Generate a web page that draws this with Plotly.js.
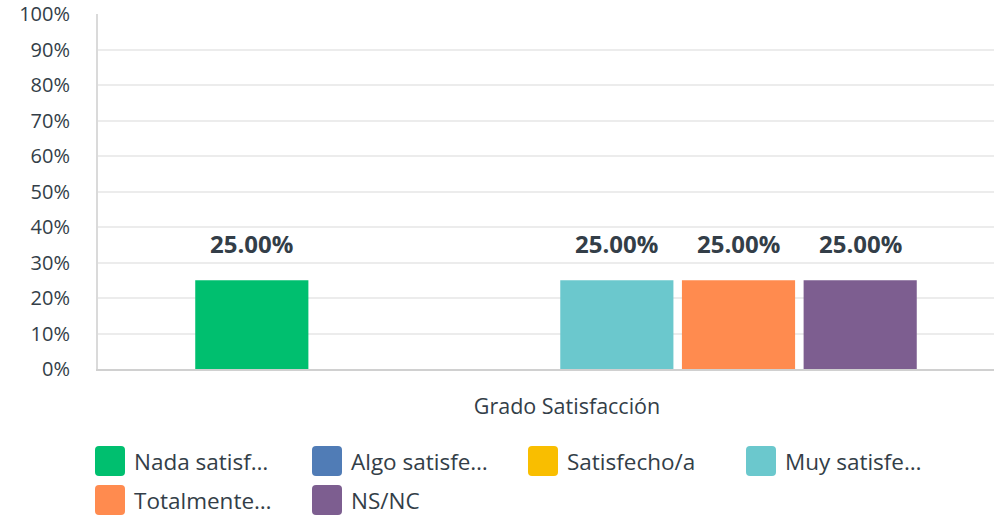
<!DOCTYPE html>
<html><head><meta charset="utf-8">
<script src="https://cdn.plot.ly/plotly-3.0.1.min.js"></script>
<style>html,body{margin:0;padding:0;background:#fff;overflow:hidden}#chart{width:994px;height:516px}</style>
</head><body><div id="chart"></div>
<script>
// ---- data ----
const categories = ['Grado Satisfacción'];
const seriesNames = ['Nada satisf…', 'Algo satisfe…', 'Satisfecho/a', 'Muy satisfe…', 'Totalmente…', 'NS/NC'];
const seriesValues = [25, 0, 0, 25, 25, 25];
const seriesColors = ['#00bf6f', '#507cb6', '#f9be00', '#6bc8cd', '#ff8b4f', '#7d5e90'];
const yTickVals = [0, 10, 20, 30, 40, 50, 60, 70, 80, 90, 100];
const yTickText = ['0%', '10%', '20%', '30%', '40%', '50%', '60%', '70%', '80%', '90%', '100%'];

// ---- layout constants ----
const W = 994, H = 516, ML = 98, MR = 0, MT = 14, MB = 147;
const PW = W - ML - MR, PH = H - MT - MB;
const bargap = 0.2217, bargroupgap = 0.07;
const FONT = '"Open Sans", "Noto Sans", sans-serif';
const TXT = '#333e48';

const traces = seriesNames.map((n, i) => ({
  type: 'bar', name: n, x: categories, y: [seriesValues[i]],
  marker: {color: seriesColors[i], line: {width: 0}},
  hoverinfo: 'skip', showlegend: false
}));

// value labels above bars
const nS = seriesNames.length;
const slot = (1 - bargap) / nS;
const annotations = [];
seriesValues.forEach((v, i) => {
  if (v > 0) annotations.push({
    xref: 'x', yref: 'y', x: (i - (nS - 1) / 2) * slot, y: v,
    text: '<b>' + v.toFixed(2) + '%</b>', showarrow: false,
    yanchor: 'middle', yshift: 37,
    font: {family: FONT, size: 24, color: TXT}
  });
});

// custom legend
const px2x = p => (p - ML) / PW;
const px2y = p => (H - MB - p) / PH;
const legendCols = [95, 312, 528, 746];
const legendRows = [461, 500];
const shapes = [];
function roundRect(x0, y0, w, h, r) {
  const X = p => px2x(p), Y = p => px2y(p);
  return 'M' + X(x0 + r) + ',' + Y(y0) +
    ' L' + X(x0 + w - r) + ',' + Y(y0) +
    ' Q' + X(x0 + w) + ',' + Y(y0) + ' ' + X(x0 + w) + ',' + Y(y0 + r) +
    ' L' + X(x0 + w) + ',' + Y(y0 + h - r) +
    ' Q' + X(x0 + w) + ',' + Y(y0 + h) + ' ' + X(x0 + w - r) + ',' + Y(y0 + h) +
    ' L' + X(x0 + r) + ',' + Y(y0 + h) +
    ' Q' + X(x0) + ',' + Y(y0 + h) + ' ' + X(x0) + ',' + Y(y0 + h - r) +
    ' L' + X(x0) + ',' + Y(y0 + r) +
    ' Q' + X(x0) + ',' + Y(y0) + ' ' + X(x0 + r) + ',' + Y(y0) + ' Z';
}
seriesNames.forEach((n, i) => {
  const cx = legendCols[i % 4], cy = legendRows[Math.floor(i / 4)];
  shapes.push({type: 'path', xref: 'paper', yref: 'paper',
    path: roundRect(cx, cy - 15, 30, 30, 4),
    fillcolor: seriesColors[i], line: {width: 0}, layer: 'above'});
  annotations.push({xref: 'paper', yref: 'paper', x: px2x(cx + 37), y: px2y(cy),
    xanchor: 'left', yanchor: 'middle', showarrow: false, text: n,
    font: {family: FONT, size: 22.5, color: TXT}});
});

// position x range so category centre sits at the group centre
const unitPx = 938;
const x0 = -(556 - ML) / unitPx;
const x1 = x0 + PW / unitPx;

const layout = {
  width: W, height: H,
  margin: {l: ML, r: MR, t: MT, b: MB, pad: 0},
  paper_bgcolor: '#fff', plot_bgcolor: '#fff',
  barmode: 'group', bargap: bargap, bargroupgap: bargroupgap,
  font: {family: FONT, color: TXT},
  xaxis: {type: 'category', range: [x0, x1], showgrid: false, zeroline: false,
    showline: true, linecolor: '#d0d0d0', linewidth: 2,
    ticks: '', tickfont: {family: FONT, size: 21.5, color: TXT},
    ticklabelstandoff: 17, ticklabelshift: 11, fixedrange: true},
  yaxis: {range: [0, 100], tickvals: yTickVals, ticktext: yTickText,
    showgrid: true, gridcolor: '#ececec', gridwidth: 2, zeroline: false,
    showline: true, linecolor: '#dadada', linewidth: 2,
    ticks: '', tickfont: {family: FONT, size: 20, color: TXT},
    ticklabelstandoff: 22, fixedrange: true},
  annotations: annotations,
  shapes: shapes,
  showlegend: false
};

Plotly.newPlot('chart', traces, layout, {displayModeBar: false, staticPlot: true});
</script>
</body></html>
